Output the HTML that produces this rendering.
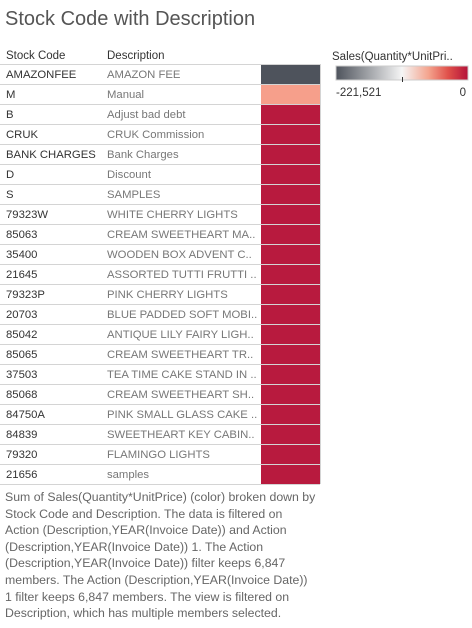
<!DOCTYPE html>
<html><head><meta charset="utf-8"><style>
body{margin:0;width:472px;height:628px;background:#fff;font-family:"Liberation Sans",sans-serif;overflow:hidden;position:relative}
.t{position:absolute;white-space:nowrap}
</style></head><body>
<div class="t" style="left:5px;top:8px;font-size:20px;color:#555">Stock Code with Description</div>
<svg id="chart" width="472" height="628" style="position:absolute;left:0;top:0"></svg>
<div class="t" style="left:5px;top:489px;font-size:12.3px;line-height:16.6px;color:#666;white-space:normal;width:312px">Sum of Sales(Quantity*UnitPrice) (color) broken down by Stock Code and Description. The data is filtered on Action (Description,YEAR(Invoice Date)) and Action (Description,YEAR(Invoice Date)) 1. The Action (Description,YEAR(Invoice Date)) filter keeps 6,847 members. The Action (Description,YEAR(Invoice Date)) 1 filter keeps 6,847 members. The view is filtered on Description, which has multiple members selected.</div>
<script>
const codes=["AMAZONFEE","M","B","CRUK","BANK CHARGES","D","S","79323W","85063","35400","21645","79323P","20703","85042","85065","37503","85068","84750A","84839","79320","21656"];
const descs=["AMAZON FEE","Manual","Adjust bad debt","CRUK Commission","Bank Charges","Discount","SAMPLES","WHITE CHERRY LIGHTS","CREAM SWEETHEART MA..","WOODEN BOX ADVENT C..","ASSORTED TUTTI FRUTTI ..","PINK CHERRY LIGHTS","BLUE PADDED SOFT MOBI..","ANTIQUE LILY FAIRY LIGH..","CREAM SWEETHEART TR..","TEA TIME CAKE STAND IN ..","CREAM SWEETHEART SH..","PINK SMALL GLASS CAKE ..","SWEETHEART KEY CABIN..","FLAMINGO LIGHTS","samples"];
const sales=[-221521,90000,214000,214000,214000,214000,214000,215000,214000,214000,214000,214000,214000,214000,214000,214000,214000,214000,214000,214000,214000];
const legendMin=-221521, legendMax=221521;
const svg=document.getElementById('chart');const NS="http://www.w3.org/2000/svg";
function mk(t,a){const e=document.createElementNS(NS,t);for(const k in a)e.setAttribute(k,a[k]);svg.appendChild(e);return e;}
function lerp(a,b,t){return a.map((v,i)=>Math.round(v+(b[i]-v)*t));}
function color(v){const neg=[78,83,92],mid=[245,245,245],pos=[180,18,58];
 if(v<0){const t=Math.min(1,v/legendMin);return 'rgb('+lerp(mid,neg,t)+')';}
 const t=Math.min(1,v/legendMax);
 const c=t<0.45?lerp(mid,[246,150,128],t/0.45):lerp([246,150,128],pos,(t-0.45)/0.55);return 'rgb('+c+')';}
const defs=mk('defs',{});
const cp=document.createElementNS(NS,'clipPath');cp.setAttribute('id','dc');defs.appendChild(cp);
const cr=document.createElementNS(NS,'rect');cr.setAttribute('x',100);cr.setAttribute('y',0);cr.setAttribute('width',158);cr.setAttribute('height',628);cp.appendChild(cr);
const top0=64,rh=20;const yRow=i=>top0+i*rh;
let h=mk('text',{x:6,y:59,'font-size':11.5,fill:'#333'});h.textContent='Stock Code';


h=mk('text',{x:107,y:59,'font-size':11.5,fill:'#333'});h.textContent='Description';


codes.forEach((c,i)=>{
 const y=yRow(i);
 const ln=mk('line',{x1:0,x2:320,y1:y+0.5,y2:y+0.5,stroke:'#d4d4d4'});
 
 
 const r=mk('rect',{x:261,y:y+1,width:59,height:rh-1,fill:color(sales[i])});
 
 
 const t1=mk('text',{x:6,y:y+14,'font-size':11.3,fill:'#333'});t1.textContent=c;
 
 
 const t2=mk('text',{x:107,y:y+14,'font-size':11.3,fill:'#777','clip-path':'url(#dc)'});t2.textContent=descs[i];
 
 
});
mk('line',{x1:0,x2:320,y1:yRow(codes.length)+0.5,y2:yRow(codes.length)+0.5,stroke:'#d4d4d4'});
mk('line',{x1:320.5,x2:320.5,y1:top0,y2:yRow(codes.length),stroke:'#d4d4d4'});
// legend
const lt=mk('text',{x:332,y:60,'font-size':11.5,fill:'#333'});lt.textContent='Sales(Quantity*UnitPri..';


const g=document.createElementNS(NS,'linearGradient');g.setAttribute('id','lg');defs.appendChild(g);
[[0,'#4e535c'],[0.5,'#f5f5f5'],[0.7,'#f4a48e'],[0.85,'#e0504a'],[1,'#b4123a']].forEach(s=>{const st=document.createElementNS(NS,'stop');st.setAttribute('offset',s[0]);st.setAttribute('stop-color',s[1]);g.appendChild(st);});
const lb=mk('rect',{x:336,y:66,width:132,height:14,fill:'url(#lg)',stroke:'#ccc'});


mk('line',{x1:402.5,x2:402.5,y1:77,y2:82,stroke:'#333'});
const l1=mk('text',{x:336,y:96,'font-size':11.5,fill:'#333'});l1.textContent='-221,521';


const l2=mk('text',{x:466,y:96,'font-size':11.5,fill:'#333','text-anchor':'end'});l2.textContent='0';


</script>
</body></html>
